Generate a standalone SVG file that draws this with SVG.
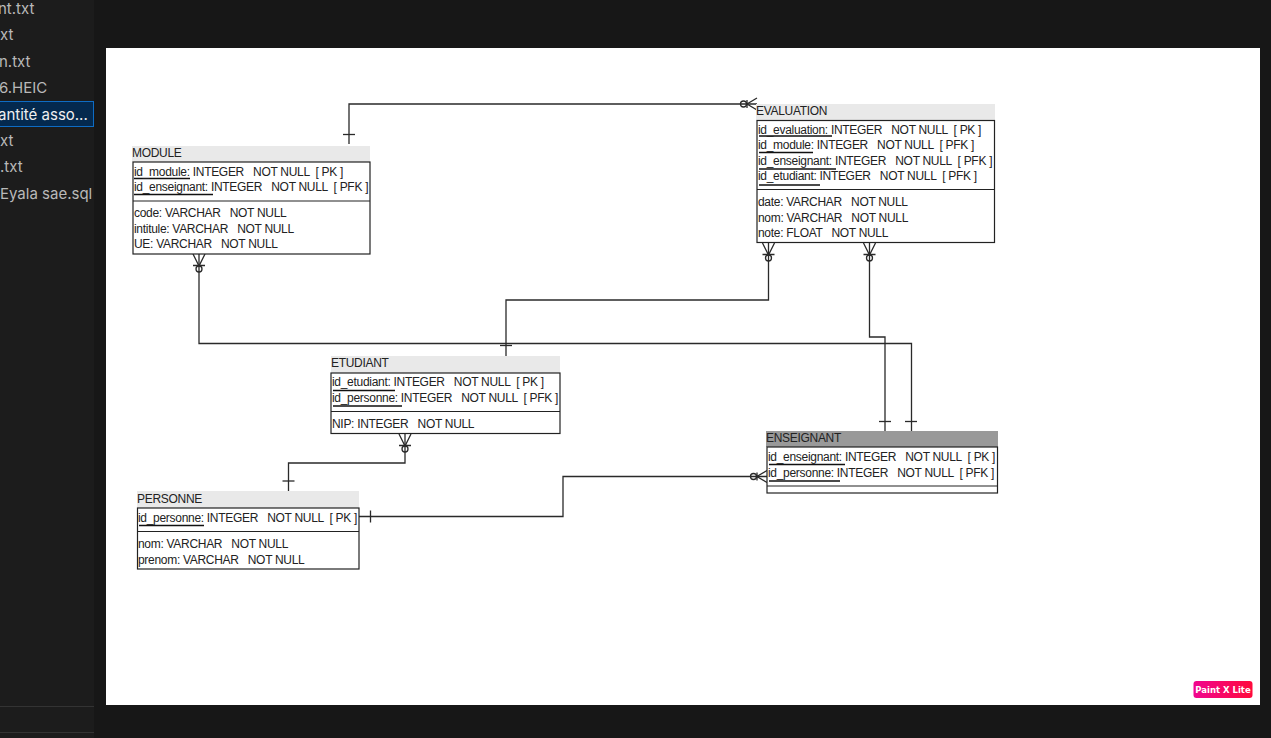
<svg xmlns="http://www.w3.org/2000/svg" width="1271" height="738" viewBox="0 0 1271 738">
<style>
.side{font:15px "Inter","Liberation Sans",sans-serif;fill:#b9b9b9}
.t{font:12px "Liberation Sans",Arial,sans-serif;fill:#222;letter-spacing:-.3px;white-space:pre}
.box{fill:#fff;stroke:#222;stroke-width:1.2}
.hd{fill:#e9e9e9}
.u{stroke:#111;stroke-width:1.3}
.c{fill:none;stroke:#2a2a2a;stroke-width:1.3}
.sep{stroke:#222;stroke-width:1.2}
</style>
<defs><linearGradient id="g"><stop offset="0" stop-color="#f0068f"/><stop offset="1" stop-color="#ff0a3c"/></linearGradient></defs>
<rect width="1271" height="738" fill="#171717"/>
<g id="sidebar">
<rect width="94" height="738" fill="#1c1c1c"/>
<rect x="-2" y="101.500" width="95.500" height="25" fill="#04294e" stroke="#0e6cc4"/>
<text class="side" x="-2" y="14">nt.txt</text>
<text class="side" x="0" y="40">xt</text>
<text class="side" x="-1" y="67">n.txt</text>
<text class="side" x="-1" y="93">6.HEIC</text>
<text class="side" x="-2" y="120" style="fill:#f0f0f0">antité asso...</text>
<text class="side" x="0" y="146">xt</text>
<text class="side" x="0" y="172">.txt</text>
<text class="side" x="0" y="199">Eyala sae.sql</text>
<path d="M0 706.500H94M0 732.500H94" stroke="#333"/>
</g>
<rect id="canvas" x="106" y="48" width="1154" height="657" fill="#fff"/>
<g id="connectors" class="c">
<path d="M349 144V104H757"/>
<path d="M343 134.500H355"/>
<circle cx="743.500" cy="104" r="3"/><path d="M757 98L747 104L757 110M747 100V108"/>
<path d="M199 254V343.500H911.500V431"/>
<path d="M193 254L199 266L205 254M193 265.500H205"/><circle cx="199" cy="269" r="3"/>
<path d="M905 421.500H917"/>
<path d="M506 356V300H768.500V243"/>
<path d="M500 345.500H512"/>
<path d="M762.500 243L768.500 255L774.500 243M762.500 254.500H774.500"/><circle cx="768.500" cy="258" r="3"/>
<path d="M869.500 243V337H885V431"/>
<path d="M863.500 243L869.500 255L875.500 243M863.500 254.500H875.500"/><circle cx="869.500" cy="258" r="3"/>
<path d="M879 421.500H891"/>
<path d="M405 434V463H288.500V491"/>
<path d="M399 434L405 446L411 434M399 445.500H411"/><circle cx="405" cy="449" r="3"/>
<path d="M282.500 481H294.500"/>
<path d="M359 516.500H563V476.500H767"/>
<path d="M370.500 510.500V522.500"/>
<circle cx="753.500" cy="476.500" r="3"/><path d="M767 470.500L757 476.500L767 482.500M757 472.500V480.500"/>
</g>
<g id="module">
<rect class="hd" x="132" y="146" width="238" height="16"/>
<rect class="box" x="133" y="162" width="237" height="92"/>
<path class="sep" d="M133 201H370"/>
<path class="u" d="M134 178.500H190M134 194.500H213"/>
<text class="t" x="132" y="157">MODULE</text>
<text class="t" x="134" y="176">id_module: INTEGER   NOT NULL  [ PK ]</text>
<text class="t" x="134" y="191">id_enseignant: INTEGER   NOT NULL  [ PFK ]</text>
<text class="t" x="134" y="217">code: VARCHAR   NOT NULL</text>
<text class="t" x="134" y="233">intitule: VARCHAR   NOT NULL</text>
<text class="t" x="134" y="248">UE: VARCHAR   NOT NULL</text>
</g>
<g id="evaluation">
<rect class="hd" x="756" y="104" width="239" height="16"/>
<rect class="box" x="757" y="120.500" width="237.500" height="122"/>
<path class="sep" d="M757 189.500H994.500"/>
<path class="u" d="M759 136H832M759 152.500H813M759 169H836M759 185H820"/>
<text class="t" x="756" y="115">EVALUATION</text>
<text class="t" x="758" y="134">id_evaluation: INTEGER   NOT NULL  [ PK ]</text>
<text class="t" x="758" y="149">id_module: INTEGER   NOT NULL  [ PFK ]</text>
<text class="t" x="758" y="165">id_enseignant: INTEGER   NOT NULL  [ PFK ]</text>
<text class="t" x="758" y="180">id_etudiant: INTEGER   NOT NULL  [ PFK ]</text>
<text class="t" x="758" y="206">date: VARCHAR   NOT NULL</text>
<text class="t" x="758" y="222">nom: VARCHAR   NOT NULL</text>
<text class="t" x="758" y="237">note: FLOAT   NOT NULL</text>
</g>
<g id="etudiant">
<rect class="hd" x="331" y="356" width="229" height="17"/>
<rect class="box" x="331" y="373" width="229" height="60.500"/>
<path class="sep" d="M331 411.500H560"/>
<path class="u" d="M333 390.500H395M333 406H402"/>
<text class="t" x="331" y="367">ETUDIANT</text>
<text class="t" x="332" y="386">id_etudiant: INTEGER   NOT NULL  [ PK ]</text>
<text class="t" x="332" y="402">id_personne: INTEGER   NOT NULL  [ PFK ]</text>
<text class="t" x="332" y="428">NIP: INTEGER   NOT NULL</text>
</g>
<g id="personne">
<rect class="hd" x="137" y="491" width="222" height="17"/>
<rect class="box" x="137.500" y="508" width="221.500" height="61"/>
<path class="sep" d="M137.500 531.500H359"/>
<path class="u" d="M139 525.500H204"/>
<text class="t" x="137" y="503">PERSONNE</text>
<text class="t" x="138" y="522">id_personne: INTEGER   NOT NULL  [ PK ]</text>
<text class="t" x="138" y="548">nom: VARCHAR   NOT NULL</text>
<text class="t" x="138" y="564">prenom: VARCHAR   NOT NULL</text>
</g>
<g id="enseignant">
<rect x="766" y="431" width="232" height="16" fill="#999"/>
<rect class="box" x="767" y="447" width="230.500" height="46"/>
<path class="sep" d="M767 486H997.500"/>
<path class="u" d="M769 464.500H845M769 481H840"/>
<text class="t" x="766" y="442">ENSEIGNANT</text>
<text class="t" x="768" y="461">id_enseignant: INTEGER   NOT NULL  [ PK ]</text>
<text class="t" x="768" y="477">id_personne: INTEGER   NOT NULL  [ PFK ]</text>
</g>
<g id="badge">
<rect x="1193.500" y="681" width="59" height="17" rx="3" fill="url(#g)"/>
<text x="1223" y="693" text-anchor="middle" font-family="'DejaVu Sans',sans-serif" font-size="8.500" font-weight="700" fill="#fff">Paint X Lite</text>
</g>
</svg>
